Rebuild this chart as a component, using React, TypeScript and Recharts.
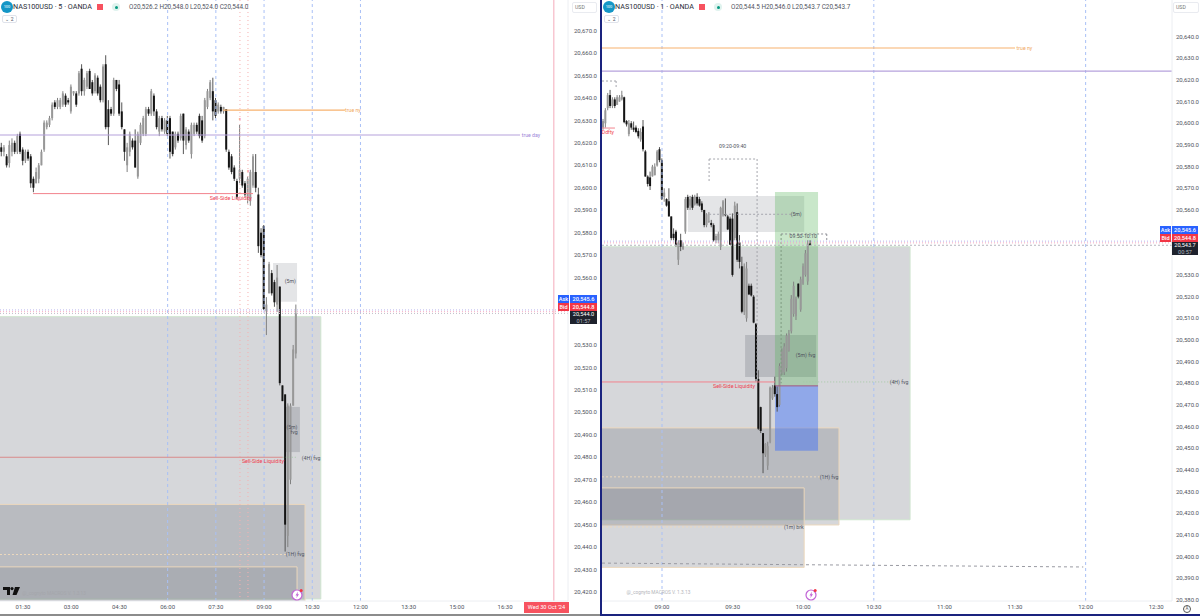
import React from 'react';
import { ComposedChart, Bar, XAxis, YAxis, ReferenceArea, ReferenceLine, ReferenceDot } from 'recharts';

// 5 minute panel
const leftStart = 50;
const leftOpens = [20618,20616,20614,20611,20616,20620,20616,20624,20617,20612,20616,20614,20604,20602,20604,20610,20617,20627,20628,20631,20638,20636,20636,20637,20641,20639,20634,20642,20642,20642,20653,20643,20645,20652,20647,20643,20649,20645,20639,20655,20635,20635,20633,20648,20646,20634,20626,20610,20616,20621,20621,20605,20620,20624,20624,20635,20633,20641,20634,20625,20631,20625,20630,20631,20625,20618,20624,20622,20633,20619,20625,20615,20624,20628,20632,20630,20623,20636,20640,20643,20639,20634,20636,20634,20635,20616,20614,20609,20603,20604,20607,20602,20596,20594,20601,20607,20597,20580,20583,20545,20553,20562,20558,20548,20556,20512,20508,20445,20470,20503,20526.2];
const leftHighs = [20620,20619,20615,20621,20622,20621,20624,20625,20618,20617,20617,20615,20605,20609,20611,20617,20630,20630,20632,20638,20639,20640,20640,20643,20642,20640,20646,20643,20643,20652,20655,20649,20652,20653,20648,20651,20650,20646,20655,20659,20639,20636,20649,20648,20648,20638,20626,20620,20625,20622,20626,20625,20629,20632,20636,20636,20644,20642,20635,20632,20632,20631,20632,20632,20625,20625,20625,20633,20633,20627,20626,20629,20629,20629,20633,20632,20640,20644,20648,20649,20640,20638,20637,20636,20635,20617,20615,20610,20604,20628,20608,20603,20605,20608,20615,20615,20600,20582,20583.4,20551.3,20567,20563.4,20559,20565.6,20556,20512,20508,20504,20504,20530,20548];
const leftLows = [20614,20614,20609,20609,20614,20615,20615,20615,20610,20611,20612,20600,20598,20602,20602,20610,20616,20626,20627,20630,20635,20635,20635,20636,20636,20637,20633,20641,20636,20641,20641,20641,20644,20644,20641,20642,20641,20638,20638,20626,20619,20632,20632,20643,20632,20626,20612,20607,20614,20617,20609,20604,20619,20623,20623,20632,20632,20632,20626,20623,20625,20624,20623,20613,20614,20617,20620,20621,20615,20617,20620,20613,20623,20624,20622,20620,20622,20635,20639,20630,20631,20633,20633,20633,20616,20608,20606,20603,20595,20602,20600,20596,20593,20592,20600,20598,20571,20569,20545.6,20534.4,20553,20552,20547,20544.7,20512,20505,20438,20440,20468,20503,20524];
const leftCloses = [20616,20618,20610,20619,20620,20616,20623,20616,20612,20616,20613,20602,20600,20607,20610,20616,20629,20629,20631,20637,20636,20639,20639,20642,20637,20638,20645,20643,20637,20651,20643,20648,20651,20644,20642,20650,20642,20639,20654,20627,20627,20633,20648,20644,20633,20627,20616,20618,20624,20618,20609,20624,20628,20631,20635,20633,20643,20634,20627,20631,20626,20630,20624,20616,20615,20624,20621,20632,20621,20626,20621,20628,20628,20625,20623,20621,20639,20643,20647,20634,20632,20637,20634,20636,20617,20609,20607,20604,20596,20608,20601,20597,20604,20607,20614,20600,20574,20570,20546,20548,20566,20553,20549,20560,20513,20505,20450,20503,20503,20528,20544];
const leftXTicks = [90,180,270,360,450,540,630,720,810,900,990];
const leftYTicks = [20670,20660,20650,20640,20630,20620,20610,20600,20590,20580,20570,20560,20530,20520,20510,20500,20490,20480,20470,20460,20450,20440,20430,20420];
const leftXDomain = [47, 1107.5];
const leftYDomain = [20416, 20683.6];

// 1 minute panel
const rightStart = 515;
const rightOpens = [20598,20600,20607,20613,20608,20611,20608.5,20610,20611,20612,20601,20595,20600,20598,20598,20596.5,20592.5,20598.5,20587,20575.4,20575,20575.5,20576,20580.5,20588,20583,20566,20565,20564,20557,20549,20550,20537,20546,20542,20550,20566,20562,20566,20562.5,20566,20565,20563,20560,20553,20555,20554,20553,20546,20546,20543,20557.5,20558,20557,20556,20556,20547,20559,20545,20534,20513,20510,20525,20525,20520,20507.5,20482,20469,20457,20447,20442,20453,20473,20479,20475,20470,20485,20485,20487,20495,20504,20512,20511,20526,20514,20526,20530,20527,20544.5];
const rightHighs = [20602,20607,20614,20615.4,20612,20612,20613,20613,20615,20612.3,20601.5,20601.5,20601,20600.8,20599,20597.7,20597.7,20601.5,20587.7,20576,20577.7,20580.8,20581.5,20587.7,20589,20583.8,20570,20565.4,20570,20557,20551.5,20550.8,20546,20549,20545,20566,20567,20566.5,20567,20567,20567.7,20566,20564,20560,20558.5,20559,20555.4,20553.8,20549,20550,20561.5,20564.6,20565.3,20557.7,20556.9,20558.4,20563.8,20563,20548.4,20538.4,20535.3,20536,20526,20526,20520.7,20507.7,20486,20469.2,20457,20452.3,20453,20478.5,20479.2,20483,20478.5,20489.2,20496.1,20498.5,20503,20504.6,20520.7,20526.9,20520,20526,20529.2,20535.3,20541.5,20546,20546];
const rightLows = [20597,20598,20606,20607,20607,20607,20608.5,20610,20610.5,20600,20598.5,20594,20597,20596,20595.4,20593,20591.5,20587,20575.4,20570.8,20569.2,20575.4,20576,20580,20582,20564.6,20563.8,20561.5,20557,20546,20546,20543,20534.6,20541,20541.5,20549,20560,20560,20560,20562,20562,20561.5,20559,20552,20552,20554,20552,20545.4,20544.6,20544.6,20541.5,20556.9,20557,20550.7,20543.8,20529.2,20546,20536,20533,20512.3,20511.5,20508.4,20520.7,20520,20507.7,20480.8,20458.4,20457,20438.5,20446,20440,20452.3,20472.3,20473.8,20466.9,20469.2,20483.8,20483.8,20485.4,20494.6,20503,20510.7,20509.2,20519.2,20513,20525.4,20529.2,20525.4,20543.7];
const rightCloses = [20601,20606,20613,20608,20611,20608,20612,20612,20613,20600.5,20599.5,20600,20598,20597,20596,20594,20596,20588,20575.4,20572,20571,20580,20580,20587,20583,20565,20568,20562,20557,20547,20547,20544,20545,20543,20544,20565,20561,20565,20561,20566,20563,20562,20560,20553,20558,20555,20553,20546,20548,20549,20561,20564,20557.5,20551,20544,20530,20562,20537,20536,20513,20534,20533,20521,20520.5,20508,20482,20459,20458,20447.7,20452,20451,20478,20478,20475,20469,20488,20495,20497,20502,20503,20519,20525,20519,20520,20528,20534,20540,20544.5,20543.7];
const rightXTicks = [540,570,600,630,660,690,720,750];
const rightYTicks = [20640,20630,20620,20610,20600,20590,20580,20570,20560,20530,20520,20510,20500,20490,20480,20470,20460,20450,20440,20430,20420,20410,20400,20390,20380];
const rightXDomain = [514.5, 756.7];
const rightYDomain = [20379.5, 20656.9];

const toRows = (start: number, step: number, o: number[], h: number[], l: number[], c: number[]) =>
  o.map((open, i) => ({ t: start + i * step, open, high: h[i], low: l[i], close: c[i] }));

const leftData = toRows(leftStart, 5, leftOpens, leftHighs, leftLows, leftCloses);
const rightData = toRows(rightStart, 1, rightOpens, rightHighs, rightLows, rightCloses);

const ZONE = '#787b86';
const TAN = '#ecd8bd';
const PALE_GREEN = '#cfe5cf';
const BLUE_DASH = '#a9c0f6';
const ORANGE = '#f7b26e';
const PURPLE = '#b6a2dc';
const RED = '#f2838d';
const LABEL_RED = '#f0404f';
const FONT = 'Roboto, sans-serif';

const fmtTime = (m: number) => {
  const h = Math.floor(m / 60);
  const mm = m % 60;
  return `${String(h).padStart(2, '0')}:${String(mm).padStart(2, '0')}`;
};
const fmtPrice = (p: number) => p.toLocaleString('en-US', { minimumFractionDigits: 1, maximumFractionDigits: 1 });

function Candle(props: any) {
  const { x, y, width, height, payload } = props;
  const { open, high, low, close } = payload;
  const k = height / (high - low || 1);
  const cx = x + width / 2;
  const down = close < open;
  const top = y + (high - Math.max(open, close)) * k;
  const bh = Math.max(Math.abs(open - close) * k, 1);
  return (
    <g>
      <line x1={cx} x2={cx} y1={y} y2={y + height} stroke={down ? '#555' : '#808080'} strokeWidth={1} />
      <rect x={x} y={top} width={width} height={bh} fill={down ? '#141414' : '#989898'} />
    </g>
  );
}

const note = (x: number, y: number, value: string, fill = '#50535e', fontSize = 5.2) => (
  <ReferenceDot
    key={value + x}
    x={x}
    y={y}
    r={0}
    stroke="none"
    ifOverflow="visible"
    label={{ value, position: 'center', fill, fontSize, fontFamily: FONT }}
  />
);

const priceAxis = (ticks: number[], domain: number[], width: number, margin: number) => (
  <YAxis
    orientation="right"
    type="number"
    domain={domain}
    ticks={ticks}
    interval={0}
    width={width}
    tickFormatter={fmtPrice}
    tick={{ fontSize: 6, fill: '#50535e', fontFamily: FONT }}
    tickLine={false}
    tickSize={0}
    tickMargin={margin}
    axisLine={{ stroke: '#eceef2' }}
    allowDataOverflow
  />
);

const timeAxis = (ticks: number[], domain: number[]) => (
  <XAxis
    dataKey="t"
    type="number"
    scale="linear"
    domain={domain}
    ticks={ticks}
    interval={0}
    height={15}
    tickFormatter={fmtTime}
    tick={{ fontSize: 6, fill: '#50535e', fontFamily: FONT }}
    tickLine={false}
    tickSize={0}
    tickMargin={4}
    axisLine={{ stroke: '#eceef2' }}
    allowDataOverflow
  />
);

function FiveMinute() {
  const x0 = leftXDomain[0];
  const xOut = x0 - 10;
  return (
    <ComposedChart width={600} height={616} data={leftData} margin={{ top: 0, right: 0, bottom: 0, left: 0 }} barCategoryGap={0}>
      {timeAxis(leftXTicks, leftXDomain)}
      {priceAxis(leftYTicks, leftYDomain, 32, 6)}

      <ReferenceArea ifOverflow="hidden" x1={xOut} x2={646} y1={20416.9} y2={20542.6} fill={ZONE} fillOpacity={0.3} stroke={PALE_GREEN} />
      <ReferenceArea ifOverflow="hidden" x1={xOut} x2={616.5} y1={20410} y2={20459} fill={ZONE} fillOpacity={0.3} stroke={TAN} />
      <ReferenceArea ifOverflow="hidden" x1={xOut} x2={601.6} y1={20410} y2={20431.2} fill={ZONE} fillOpacity={0.22} stroke={TAN} />
      <ReferenceArea x1={556.8} x2={601.6} y1={20549.2} y2={20566.5} fill={ZONE} fillOpacity={0.2} stroke="none" />
      <ReferenceArea x1={579} x2={607} y1={20482.3} y2={20502.4} fill={ZONE} fillOpacity={0.3} stroke="none" />

      {[360, 450, 540, 630, 720].map((t) => (
        <ReferenceLine key={t} x={t} stroke={BLUE_DASH} strokeDasharray="3 3" />
      ))}
      <ReferenceLine x={495} stroke="#f6b0b0" strokeDasharray="1 3" />
      <ReferenceLine x={510} stroke="#f6b0b0" strokeDasharray="1 3" />
      <ReferenceLine x={1081} stroke="#f6b9c6" strokeWidth={1.2} />

      <ReferenceLine segment={[{ x: x0, y: 20623.5 }, { x: 1018, y: 20623.5 }]} stroke={PURPLE} strokeWidth={1.2} />
      <ReferenceLine segment={[{ x: 463.4, y: 20634.6 }, { x: 691, y: 20634.6 }]} stroke={ORANGE} strokeWidth={1.2} />
      <ReferenceLine segment={[{ x: 108.7, y: 20597.4 }, { x: 519.4, y: 20597.4 }]} stroke={RED} />
      <ReferenceLine segment={[{ x: x0, y: 20480 }, { x: 575, y: 20480 }]} stroke="#d98a8a" />
      <ReferenceLine segment={[{ x: 575, y: 20480 }, { x: 600, y: 20480 }]} stroke="#a6c9a6" strokeDasharray="1 2" />
      <ReferenceLine segment={[{ x: x0, y: 20436.7 }, { x: 581, y: 20436.7 }]} stroke={TAN} strokeDasharray="2 2" />

      <ReferenceLine y={20545.6} stroke="#b9b4ee" strokeDasharray="1 2" />
      <ReferenceLine y={20544.8} stroke="#f4a9c0" strokeDasharray="1 2" />
      <ReferenceLine y={20544} stroke="#c4c4cc" strokeDasharray="1 2" />

      <Bar dataKey={(d: any) => [d.low, d.high]} barSize={2} shape={Candle} isAnimationActive={false} />

      {note(706, 20634.6, 'true ny', '#f0a860')}
      {note(1038.5, 20623.5, 'true day', '#9c86d8')}
      {note(478, 20595.4, 'Sell-Side Liquidity', LABEL_RED, 5.4)}
      {note(538, 20478.3, 'Sell-Side Liquidity', LABEL_RED, 5.4)}
      {note(495, 20631, '=', LABEL_RED, 4)}
      {note(510, 20607.5, '=', LABEL_RED, 4)}
      {note(589, 20558.2, '(5m)')}
      {note(592, 20493.5, '(5m)')}
      {note(596, 20491, 'fvg')}
      {note(628, 20479.6, '(4H) fvg')}
      {note(598, 20436.7, '(1H) fvg')}
      {note(148, 20419.5, '@_cognyto MACROS V. 1.3.13', '#a5a6ab', 4.8)}
    </ComposedChart>
  );
}

function OneMinute() {
  const x0 = rightXDomain[0];
  const xOut = x0 - 4;
  return (
    <ComposedChart width={598} height={616} data={rightData} margin={{ top: 0, right: 0, bottom: 0, left: 0 }} barCategoryGap={0}>
      {timeAxis(rightXTicks, rightXDomain)}
      {priceAxis(rightYTicks, rightYDomain, 28, 4)}

      <ReferenceArea ifOverflow="hidden" x1={xOut} x2={645.4} y1={20417} y2={20543} fill={ZONE} fillOpacity={0.3} stroke={PALE_GREEN} />
      <ReferenceArea ifOverflow="hidden" x1={xOut} x2={615.2} y1={20414.6} y2={20459.4} fill={ZONE} fillOpacity={0.3} stroke={TAN} />
      <ReferenceArea ifOverflow="hidden" x1={xOut} x2={600.4} y1={20395} y2={20431.7} fill={ZONE} fillOpacity={0.3} stroke={TAN} />
      <ReferenceArea x1={551} x2={600.4} y1={20549.8} y2={20566.4} fill={ZONE} fillOpacity={0.2} stroke="none" />
      <ReferenceArea x1={575.3} x2={605.5} y1={20482.9} y2={20502.3} fill={ZONE} fillOpacity={0.32} stroke="none" />
      <ReferenceArea x1={588} x2={606.3} y1={20478.8} y2={20568.3} fill="#4caf50" fillOpacity={0.3} stroke="none" />
      <ReferenceArea x1={588} x2={606.3} y1={20448.8} y2={20478.8} fill="#2962ff" fillOpacity={0.4} stroke="none" />

      {[540, 630, 720].map((t) => (
        <ReferenceLine key={t} x={t} stroke={BLUE_DASH} strokeDasharray="3 3" />
      ))}

      <ReferenceLine y={20624.1} stroke={PURPLE} strokeWidth={1.2} />
      <ReferenceLine segment={[{ x: x0, y: 20634.75 }, { x: 690, y: 20634.75 }]} stroke={ORANGE} strokeWidth={1.2} />
      <ReferenceLine segment={[{ x: x0, y: 20597.8 }, { x: 520, y: 20597.8 }]} stroke={RED} />
      <ReferenceLine segment={[{ x: x0, y: 20480.6 }, { x: 588, y: 20480.6 }]} stroke={RED} />
      <ReferenceLine segment={[{ x: 588, y: 20478.8 }, { x: 606.3, y: 20478.8 }]} stroke="#a25a7c" />
      <ReferenceLine segment={[{ x: 600, y: 20480.6 }, { x: 640, y: 20480.6 }]} stroke="#a6c9a6" strokeDasharray="1 2" />
      <ReferenceLine segment={[{ x: x0, y: 20436.8 }, { x: 607, y: 20436.8 }]} stroke={TAN} strokeDasharray="2 2" />
      <ReferenceLine segment={[{ x: x0, y: 20413.7 }, { x: 592, y: 20413.7 }]} stroke={TAN} strokeDasharray="2 2" />
      <ReferenceLine segment={[{ x: x0, y: 20397 }, { x: 719, y: 20395.2 }]} stroke="#9a9ba3" strokeDasharray="3 3" />
      <ReferenceLine segment={[{ x: 560, y: 20558 }, { x: 596, y: 20558 }]} stroke="#a5a6ad" strokeDasharray="2 2" />

      <ReferenceLine segment={[{ x: x0, y: 20619.5 }, { x: 520.5, y: 20619.5 }]} stroke="#a5a6ad" strokeDasharray="2 2" />
      <ReferenceLine segment={[{ x: 520.5, y: 20619.5 }, { x: 520.5, y: 20616.3 }]} stroke="#a5a6ad" strokeDasharray="2 2" />
      <ReferenceLine segment={[{ x: 560, y: 20583.5 }, { x: 580.4, y: 20583.5 }]} stroke="#a5a6ad" strokeDasharray="2 2" />
      <ReferenceLine segment={[{ x: 560, y: 20583.5 }, { x: 560, y: 20572.9 }]} stroke="#a5a6ad" strokeDasharray="2 2" />
      <ReferenceLine segment={[{ x: 580.4, y: 20583.5 }, { x: 580.4, y: 20480 }]} stroke="#a5a6ad" strokeDasharray="2 2" />
      <ReferenceLine segment={[{ x: 590.6, y: 20548.9 }, { x: 610, y: 20548.9 }]} stroke="#8f9097" strokeDasharray="2 2" />
      <ReferenceLine segment={[{ x: 590.6, y: 20548.9 }, { x: 590.6, y: 20480 }]} stroke="#7f9a80" strokeDasharray="2 2" />
      <ReferenceLine segment={[{ x: 610, y: 20548.9 }, { x: 610, y: 20546 }]} stroke="#8f9097" strokeDasharray="2 2" />

      <ReferenceLine y={20545.6} stroke="#b9b4ee" strokeDasharray="1 2" />
      <ReferenceLine y={20544.8} stroke="#f4a9c0" strokeDasharray="1 2" />
      <ReferenceLine y={20543.7} stroke="#b5b5bd" strokeDasharray="2 2" />

      <Bar dataKey={(d: any) => [d.low, d.high]} barSize={2} shape={Candle} isAnimationActive={false} />

      {note(694, 20634.75, 'true ny', '#f0a860')}
      {note(517, 20596, 'Ddfty', LABEL_RED)}
      {note(570, 20589.5, '09:20-09:40')}
      {note(600, 20548, '09:50-10:10')}
      {note(597, 20558, '(5m)')}
      {note(601, 20493, '(5m) fvg')}
      {note(570.6, 20478.8, 'Sell-Side Liquidity', LABEL_RED, 5.4)}
      {note(640.7, 20480.6, '(4H) fvg')}
      {note(611, 20436.8, '(1H) fvg')}
      {note(596, 20413.7, '(1m) brk')}
      {note(538.5, 20383.4, '@_cognyto MACROS V. 1.3.13', '#b4b5ba', 4.8)}
    </ComposedChart>
  );
}

const abs = (left: number, top: number, width: number, height: number, extra: React.CSSProperties = {}): React.CSSProperties => ({
  position: 'absolute', left, top, width, height, ...extra,
});

function Header({ left, title, ohlc }: { left: number; title: string; ohlc: string }) {
  return (
    <>
      <div style={abs(left + 1, 1, 12, 12, { borderRadius: 6, background: '#1396c6', color: '#fff', fontSize: 4, lineHeight: '12px', textAlign: 'center' })}>100</div>
      <div style={abs(left + 13, 1, 90, 12, { fontSize: 7.2, lineHeight: '12px', color: '#2a2e39', whiteSpace: 'nowrap' })}>{title}</div>
      <div style={abs(left + 97, 4, 6, 6, { background: '#f7525f' })} />
      <div style={abs(left + 112, 3, 8, 8, { borderRadius: 4, background: '#dff3ee' })} />
      <div style={abs(left + 114.5, 5.5, 3, 3, { borderRadius: 2, background: '#089981' })} />
      <div style={abs(left + 129, 1, 140, 12, { fontSize: 6.4, lineHeight: '12px', color: '#50535e', whiteSpace: 'nowrap' })}>{ohlc}</div>
      <div style={abs(left + 2, 15, 15, 8, { border: '1px solid #e0e3eb', borderRadius: 2, boxSizing: 'border-box', fontSize: 5, lineHeight: '6px', textAlign: 'center', color: '#50535e', background: '#fff' })}>⌄ 2</div>
    </>
  );
}

function PriceTags({ tagLeft, priceLeft, priceWidth, top, last, left2 }: { tagLeft: number; priceLeft: number; priceWidth: number; top: number; last: string; left2: string }) {
  const cell = (l: number, t: number, w: number, h: number, bg: string, text: string, color = '#fff') => (
    <div style={abs(l, t, w, h, { background: bg, color, fontSize: 5.6, lineHeight: `${h}px`, textAlign: 'center', fontWeight: 500 })}>{text}</div>
  );
  return (
    <>
      {cell(tagLeft, top, 11, 8, '#2962ff', 'Ask')}
      {cell(tagLeft, top + 8, 11, 8, '#f23645', 'Bid')}
      {cell(priceLeft, top, priceWidth, 8, '#2962ff', '20,545.6')}
      {cell(priceLeft, top + 8, priceWidth, 8, '#f23645', '20,544.8')}
      <div style={abs(priceLeft, top + 16, priceWidth, 13, { background: '#1e222d', color: '#fff', fontSize: 5.6, lineHeight: '6.5px', textAlign: 'center' })}>
        <div>{last}</div>
        <div style={{ color: '#b2b5be' }}>{left2}</div>
      </div>
    </>
  );
}

function Bolt({ left, top }: { left: number; top: number }) {
  return (
    <svg style={abs(left, top, 13, 13)} viewBox="0 0 13 13">
      <circle cx="6" cy="7" r="5" fill="#fff" stroke="#c163d6" strokeWidth="1.2" />
      <path d="M7 3.5 4.5 7.5H6L5.2 10.2 8 6.2H6.5Z" fill="#c163d6" />
      <circle cx="10.2" cy="2.6" r="1.5" fill="#f23645" />
    </svg>
  );
}

function UsdBox({ left, width }: { left: number; width: number }) {
  return (
    <div style={abs(left, 2, width, 11, { border: '1px solid #e9ebf0', borderRadius: 2, boxSizing: 'border-box', background: '#fff', color: '#777', fontSize: 5.2, lineHeight: '9px', paddingLeft: 2 })}>USD</div>
  );
}

export default function App() {
  return (
    <div style={{ position: 'absolute', left: 0, top: 0, width: 1200, height: 616, overflow: 'hidden', background: '#fff', fontFamily: FONT }}>
      <div style={abs(0, 0, 600, 616)}><FiveMinute /></div>
      <div style={abs(602, 0, 598, 616)}><OneMinute /></div>

      <div style={abs(600, 0, 2, 616, { background: '#1a237e' })} />
      <div style={abs(600, 614, 600, 2, { background: '#1a237e' })} />
      <div style={abs(0, 614, 600, 2, { background: '#8c8c8c' })} />

      <Header left={0} title="NAS100USD · 5 · OANDA" ohlc="O20,526.2  H20,548.0  L20,524.0  C20,544.0" />
      <Header left={602} title="NAS100USD · 1 · OANDA" ohlc="O20,544.5  H20,546.0  L20,543.7  C20,543.7" />
      <UsdBox left={572} width={25} />
      <UsdBox left={1173} width={26} />

      <PriceTags tagLeft={558} priceLeft={570} priceWidth={27} top={295} last="20,544.0" left2="01:57" />
      <PriceTags tagLeft={1160} priceLeft={1172} priceWidth={26} top={226} last="20,543.7" left2="00:57" />

      <div style={abs(524, 602, 45, 11, { background: '#f7525f', color: '#fff', fontSize: 5.6, lineHeight: '11px', textAlign: 'center', whiteSpace: 'nowrap' })}>Wed 30 Oct '24</div>

      <svg style={abs(3, 587, 17, 10)} viewBox="0 0 17 10">
        <path d="M0 0H7V8H4V3H0Z" fill="#111" />
        <circle cx="9" cy="1.6" r="1.6" fill="#111" />
        <path d="M12 0H17L13.5 8H9.5Z" fill="#111" />
      </svg>
      <Bolt left={291} top={588} />
      <Bolt left={805} top={588} />
      <div style={abs(1183, 605, 8, 8, { border: '1px solid #555', borderRadius: 4, boxSizing: 'border-box', fontSize: 4.5, lineHeight: '6px', textAlign: 'center', color: '#555' })}>A</div>
    </div>
  );
}
